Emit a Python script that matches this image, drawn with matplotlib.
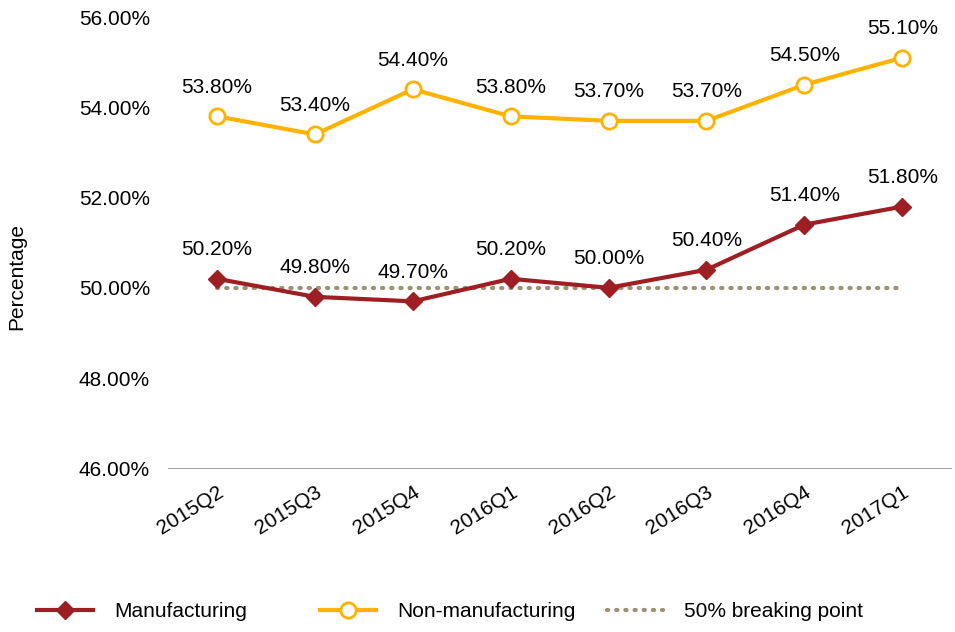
import matplotlib.pyplot as plt
import numpy as np

plt.rcParams['font.family'] = ['Liberation Sans', 'DejaVu Sans']

# Quarterly PMI-style readings (percent)
quarters = ['2015Q2', '2015Q3', '2015Q4', '2016Q1', '2016Q2', '2016Q3', '2016Q4', '2017Q1']
manufacturing = [50.2, 49.8, 49.7, 50.2, 50.0, 50.4, 51.4, 51.8]
non_manufacturing = [53.8, 53.4, 54.4, 53.8, 53.7, 53.7, 54.5, 55.1]
breaking_point = [50.0] * len(quarters)

red = '#9E1F23'
yellow = '#FFB300'
khaki = '#9C9173'
fs = 15

fig = plt.figure(figsize=(9.55, 6.32), dpi=100)
ax = fig.add_axes([0.176, 0.259, 0.82, 0.714])

x = np.arange(len(quarters))

l1, = ax.plot(x, manufacturing, color=red, lw=3, marker='D', markersize=9,
              markerfacecolor=red, markeredgecolor=red, label='Manufacturing', zorder=3)
l2, = ax.plot(x, non_manufacturing, color=yellow, lw=3, marker='o', markersize=11,
              markerfacecolor='white', markeredgecolor=yellow, markeredgewidth=2,
              label='Non-manufacturing', zorder=3)
l3, = ax.plot(x, breaking_point, color=khaki, lw=3, linestyle=(0, (0.3, 1.9)),
              dash_capstyle='round', label='50% breaking point', zorder=2)

# Value labels above each point
for xi, v in zip(x, manufacturing):
    ax.annotate(f'{v:.2f}%', (xi, v), xytext=(0, 21), textcoords='offset points',
                ha='center', va='center', fontsize=fs)
for xi, v in zip(x, non_manufacturing):
    ax.annotate(f'{v:.2f}%', (xi, v), xytext=(0, 21), textcoords='offset points',
                ha='center', va='center', fontsize=fs)

ax.set_xlim(-0.5, len(quarters) - 0.5)
ax.set_ylim(46, 56)
ax.set_yticks(np.arange(46, 56.1, 2))
ax.set_yticklabels([f'{t:.2f}%' for t in np.arange(46, 56.1, 2)], fontsize=fs)
ax.set_xticks(x)
ax.set_xticklabels(quarters, rotation=32, ha='right', rotation_mode='anchor', fontsize=fs)
ax.tick_params(axis='y', length=0, pad=13)
ax.tick_params(axis='x', length=0, pad=10)
ax.set_ylabel('Percentage', fontsize=fs, va='center')
ax.yaxis.set_label_coords(-0.193, 0.424)

for side in ['top', 'right', 'left']:
    ax.spines[side].set_visible(False)
ax.spines['bottom'].set_color('#A6A6A6')

# One legend entry per slot along the bottom
for handle, left in zip([l1, l2, l3], [37, 320, 607]):
    fig.legend(handles=[handle], loc='center left', bbox_to_anchor=(left / 955, 0.032),
               frameon=False, fontsize=fs, handlelength=2.7, handletextpad=1.0,
               borderpad=0, borderaxespad=0)

fig.savefig('out.png', dpi=100)
